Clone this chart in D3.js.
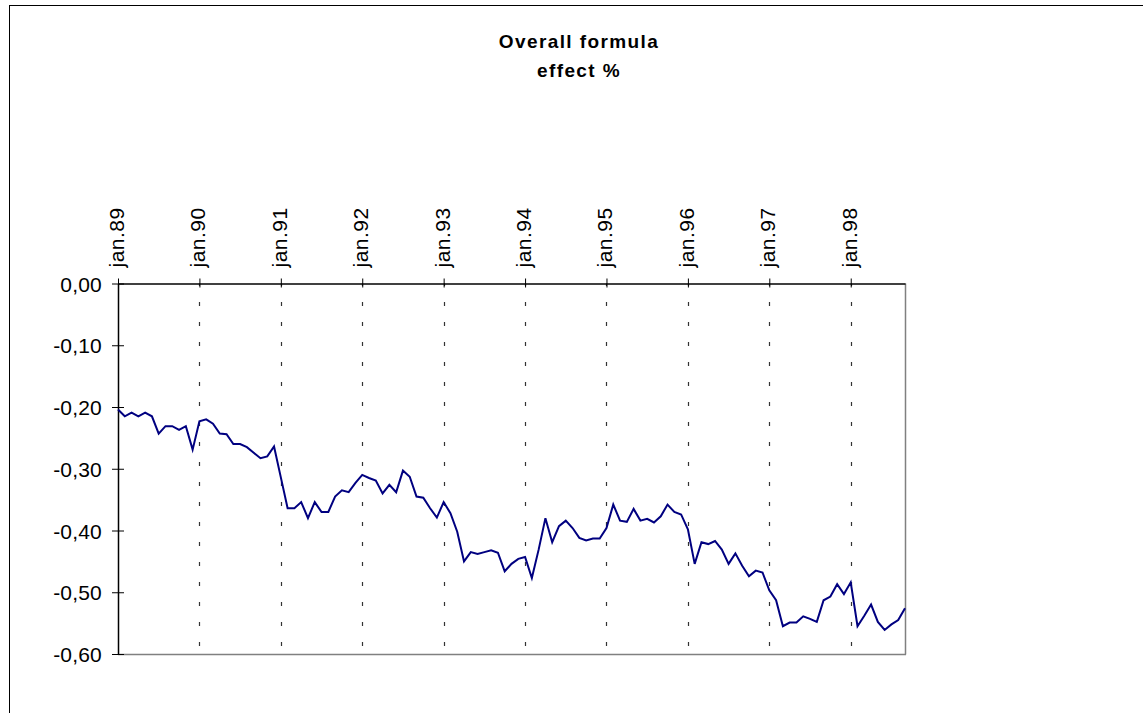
<!DOCTYPE html>
<html>
<head>
<meta charset="utf-8">
<script src="https://cdn.jsdelivr.net/npm/d3@7"></script>
<style>
  html, body { margin: 0; padding: 0; background: #fff; }
  svg { display: block; }
  text { font-family: "Liberation Sans", Arial, sans-serif; }
</style>
</head>
<body>
<svg id="chart" width="1143" height="713"></svg>
<script>
// ---- Data ----
const titleLines = ["Overall formula", "effect %"];
const monthNames = ["jan","feb","mar","apr","mai","jun","jul","aug","sep","okt","nov","des"];
const years = ["89","90","91","92","93","94","95","96","97","98"];
const nPoints = 117; // jan.89 .. sep.98
const categories = [];
for (const yy of years) for (const m of monthNames) if (categories.length < nPoints) categories.push(m + "." + yy);

const values = [
  -0.204, -0.215, -0.209, -0.215, -0.209, -0.215, -0.243, -0.231, -0.231, -0.237, -0.231, -0.269,
  -0.223, -0.220, -0.227, -0.243, -0.244, -0.260, -0.260, -0.265, -0.274, -0.283, -0.280, -0.264,
  -0.314, -0.364, -0.364, -0.354, -0.380, -0.354, -0.370, -0.370, -0.345, -0.335, -0.338, -0.323,
  -0.310, -0.315, -0.319, -0.340, -0.326, -0.338, -0.303, -0.313, -0.345, -0.347, -0.364, -0.379,
  -0.354, -0.372, -0.402, -0.450, -0.435, -0.438, -0.435, -0.432, -0.436, -0.466, -0.454, -0.446,
  -0.443, -0.477, -0.431, -0.380, -0.419, -0.393, -0.384, -0.396, -0.412, -0.416, -0.413, -0.413,
  -0.396, -0.358, -0.384, -0.386, -0.365, -0.384, -0.381, -0.387, -0.377, -0.358, -0.370, -0.374,
  -0.398, -0.454, -0.419, -0.422, -0.417, -0.431, -0.454, -0.437, -0.457, -0.474, -0.465, -0.468,
  -0.497, -0.513, -0.555, -0.549, -0.549, -0.539, -0.543, -0.548, -0.513, -0.507, -0.487, -0.503,
  -0.484, -0.555, -0.538, -0.520, -0.548, -0.561, -0.552, -0.545, -0.526
];
const yTicks = [0, -0.1, -0.2, -0.3, -0.4, -0.5, -0.6];
const xTickLabels = ["jan.89","jan.90","jan.91","jan.92","jan.93","jan.94","jan.95","jan.96","jan.97","jan.98"];

// ---- Layout ----
const svg = d3.select("#chart");
const plot = { left: 118, right: 905, top: 283.5, bottom: 654 };

// outer chart frame
svg.append("rect").attr("x", 9.5).attr("y", 5.5).attr("width", 1300).attr("height", 1000)
  .attr("fill", "none").attr("stroke", "#000").attr("stroke-width", 1);

// title
const title = svg.append("text").attr("text-anchor", "middle")
  .attr("font-size", 19).attr("font-weight", "bold").attr("letter-spacing", 1.4).attr("fill", "#000");
titleLines.forEach((t, i) => {
  title.append("tspan").attr("x", 579).attr("y", 48 + i * 29).text(t);
});

const x = d3.scalePoint().domain(categories).range([plot.left, plot.right]);
const y = d3.scaleLinear().domain([-0.6, 0]).range([plot.bottom, plot.top]);

// plot area right & bottom borders (gray)
svg.append("line").attr("x1", plot.right + 0.5).attr("x2", plot.right + 0.5)
  .attr("y1", plot.top).attr("y2", plot.bottom + 0.5).attr("stroke", "#808080").attr("stroke-width", 1.5);
svg.append("line").attr("x1", plot.left).attr("x2", plot.right + 1)
  .attr("y1", plot.bottom + 0.5).attr("y2", plot.bottom + 0.5).attr("stroke", "#808080").attr("stroke-width", 1.5);

// vertical dotted gridlines at each January
const janCats = xTickLabels.slice(1);
svg.append("g").selectAll("line").data(janCats).join("line")
  .attr("x1", d => Math.round(x(d)) + 0.5).attr("x2", d => Math.round(x(d)) + 0.5)
  .attr("y1", plot.top).attr("y2", plot.bottom)
  .attr("stroke", "#333").attr("stroke-width", 1.2)
  .attr("stroke-dasharray", "4,16").attr("stroke-dashoffset", 1.5);

// x axis on top (at value 0)
const xAxis = d3.axisTop(x).tickValues(xTickLabels).tickSize(5).tickSizeOuter(0).tickPadding(12);
const gx = svg.append("g").attr("transform", `translate(0,${plot.top})`).call(xAxis);
gx.select(".domain").attr("stroke", "#000").attr("stroke-width", 1.5);
gx.selectAll(".tick line").attr("y1", 4).attr("y2", -5).attr("stroke", "#000");
gx.selectAll(".tick text")
  .attr("font-size", 21).attr("letter-spacing", 0.5).attr("fill", "#000")
  .attr("text-anchor", "start").attr("dy", null)
  .attr("transform", "translate(5.5,-16) rotate(-90)")
  .attr("x", 0).attr("y", 0);

// y axis on left
const yAxis = d3.axisLeft(y).tickValues(yTicks).tickSize(6).tickSizeOuter(0).tickPadding(10)
  .tickFormat(d => d3.format(".2f")(d).replace(".", ",").replace("−", "-"));
const gy = svg.append("g").attr("transform", `translate(${plot.left},0)`).call(yAxis);
gy.select(".domain").attr("stroke", "#000").attr("stroke-width", 1.5);
gy.selectAll(".tick line").attr("x1", 6).attr("x2", -6).attr("stroke", "#000");
gy.selectAll(".tick text").attr("font-size", 21).attr("letter-spacing", 0.2).attr("fill", "#000")
  .attr("x", -16).attr("dy", "0.36em");

// data line
const line = d3.line().x((d, i) => x(categories[i])).y(d => y(d));
svg.append("path").datum(values).attr("d", line)
  .attr("fill", "none").attr("stroke", "#000080").attr("stroke-width", 2)
  .attr("stroke-linejoin", "miter");
</script>
</body>
</html>
